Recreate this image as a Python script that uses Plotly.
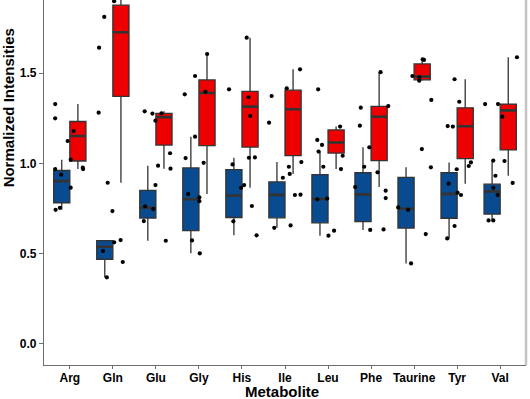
import numpy as np
import plotly.graph_objects as go

metabolites = ["Arg", "Gln", "Glu", "Gly", "His", "Ile", "Leu", "Phe", "Taurine", "Tyr", "Val"]

# group 1 (blue) sample values per metabolite
blue_values = [
    [0.742, 0.753, 0.865, 0.937, 0.968, 1.020],
    [0.367, 0.452, 0.513, 0.561, 0.574, 0.735],
    [0.570, 0.679, 0.746, 0.761, 0.879, 0.987],
    [0.500, 0.572, 0.790, 0.811, 1.029, 1.148],
    [0.600, 0.678, 0.763, 0.879, 0.994, 1.031],
    [0.642, 0.655, 0.824, 0.826, 0.920, 1.007],
    [0.598, 0.626, 0.800, 0.804, 0.981, 1.065],
    [0.630, 0.633, 0.807, 0.848, 0.981, 1.089],
    [0.444, 0.607, 0.741, 0.755, 0.978, 1.352],
    [0.583, 0.652, 0.824, 0.837, 0.985, 1.005],
    [0.683, 0.683, 0.824, 0.864, 0.891, 1.015],
]
# group 2 (red) sample values per metabolite
red_values = [
    [0.968, 0.976, 1.124, 1.179, 1.250, 1.329],
    [0.892, 1.281, 1.642, 1.813, 1.900, 2.400],
    [0.970, 1.056, 1.237, 1.276, 1.278, 1.289],
    [0.829, 1.003, 1.383, 1.398, 1.485, 1.607],
    [0.864, 1.033, 1.263, 1.367, 1.411, 1.698],
    [0.941, 0.981, 1.226, 1.374, 1.417, 1.522],
    [0.968, 1.042, 1.102, 1.130, 1.204, 1.411],
    [0.868, 0.950, 1.209, 1.309, 1.318, 1.506],
    [1.079, 1.459, 1.478, 1.485, 1.574, 1.578],
    [0.887, 0.967, 1.204, 1.207, 1.342, 1.467],
    [0.931, 1.013, 1.259, 1.329, 1.329, 1.589],
]
# horizontal jitter of each dot (category units)
blue_jitter = [
    [-0.33, -0.23, 0.02, -0.20, -0.34, 0.02],
    [-0.14, 0.23, -0.23, 0.03, 0.18, -0.01],
    [0.23, -0.28, -0.06, -0.25, -0.01, 0.05],
    [0.02, -0.16, 0.01, 0.01, -0.31, -0.09],
    [0.34, -0.20, 0.23, 0.05, -0.22, 0.16],
    [-0.25, 0.13, 0.23, 0.36, -0.05, 0.38],
    [0.01, 0.14, -0.25, -0.02, -0.11, -0.22],
    [-0.02, 0.29, 0.34, 0.34, -0.16, -0.04],
    [-0.07, 0.27, -0.14, -0.37, 0.39, 0.40],
    [-0.23, -0.06, 0.09, 0.01, 0.27, 0.32],
    [-0.27, -0.16, -0.06, -0.16, 0.29, -0.16],
]
red_jitter = [
    [0.31, 0.30, -0.05, 0.09, -0.34, -0.34],
    [-0.12, -0.33, -0.32, -0.20, 0.03, 0.20],
    [0.34, 0.33, -0.01, -0.08, 0.13, -0.26],
    [-0.25, 0.11, -0.33, 0.15, -0.09, 0.19],
    [-0.02, 0.30, 0.19, 0.15, -0.30, 0.11],
    [0.11, 0.09, -0.37, -0.31, 0.04, 0.35],
    [0.30, 0.34, -0.14, -0.25, 0.28, -0.23],
    [-0.37, 0.15, -0.26, -0.24, 0.40, 0.22],
    [0.18, 0.12, 0.12, -0.04, 0.23, 0.20],
    [-0.20, -0.01, -0.10, -0.22, 0.05, -0.06],
    [-0.11, 0.10, 0.05, -0.35, -0.05, 0.39],
]
y_ticks = [0.0, 0.5, 1.0, 1.5]

BLUE = "#084B91"
RED = "#EE0000"
OUTLINE = "#333333"
FONT = "Liberation Sans, Arial, Helvetica, sans-serif"

positions = np.arange(1, len(metabolites) + 1)


def box_stats(groups):
    q1s, meds, q3s, lfs, ufs = [], [], [], [], []
    for vals in groups:
        v = np.sort(np.asarray(vals, dtype=float))
        q1, med, q3 = np.percentile(v, [25, 50, 75])
        iqr = q3 - q1
        lf = v[v >= q1 - 1.5 * iqr].min()
        uf = v[v <= q3 + 1.5 * iqr].max()
        q1s.append(q1); meds.append(med); q3s.append(q3)
        lfs.append(min(lf, q1)); ufs.append(max(uf, q3))
    return q1s, meds, q3s, lfs, ufs


fig = go.Figure()

for name, groups, color in [("blue", blue_values, BLUE), ("red", red_values, RED)]:
    q1, med, q3, lf, uf = box_stats(groups)
    fig.add_trace(go.Box(
        x=positions, q1=q1, median=med, q3=q3, lowerfence=lf, upperfence=uf,
        fillcolor=color, line=dict(color=OUTLINE, width=1.3),
        offsetgroup=name, boxpoints=False, showlegend=False, name=name,
        whiskerwidth=0,
    ))
    # thicker median bar (ggplot style)
    fig.add_trace(go.Box(
        x=positions, q1=med, median=med, q3=med, lowerfence=med, upperfence=med,
        fillcolor="rgba(0,0,0,0)", line=dict(color=OUTLINE, width=2.6),
        offsetgroup=name, boxpoints=False, showlegend=False, name=name + " median",
        whiskerwidth=0, hoverinfo="skip",
    ))

px_, py_ = [], []
for i in range(len(metabolites)):
    for vals, jit in [(blue_values[i], blue_jitter[i]), (red_values[i], red_jitter[i])]:
        for v, j in zip(vals, jit):
            px_.append(positions[i] + j)
            py_.append(v)
fig.add_trace(go.Scatter(
    x=px_, y=py_, mode="markers",
    marker=dict(color="black", size=4.2, line=dict(width=0)),
    showlegend=False, cliponaxis=True,
))

fig.update_layout(
    width=530, height=399,
    margin=dict(l=44, r=4, t=0, b=34),
    paper_bgcolor="white", plot_bgcolor="white",
    boxmode="group", boxgap=0.25, boxgroupgap=0,
    font=dict(family=FONT, color="black"),
    showlegend=False,
    annotations=[
        dict(text="Metabolite", xref="paper", yref="paper", x=0.493, y=-0.072,
             xanchor="center", yanchor="middle", showarrow=False,
             font=dict(family=FONT, size=15, color="black", weight="bold")),
        dict(text="Normalized Intensities", xref="paper", yref="paper", x=-0.074, y=0.704,
             xanchor="center", yanchor="middle", showarrow=False, textangle=-90,
             font=dict(family=FONT, size=15, color="black", weight="bold")),
    ],
    shapes=[
        dict(type="line", xref="paper", yref="paper", x0=1.0, x1=1.0, y0=0, y1=1,
             line=dict(color="#c4c4c4", width=2.5)),
    ],
)
fig.update_xaxes(
    range=[0.4, 11.6], tickmode="array", tickvals=positions, ticktext=metabolites,
    showgrid=False, zeroline=False, showline=True, linecolor="#6e6e6e", linewidth=1.3,
    ticks="outside", ticklen=3, tickwidth=1.1, tickcolor="#6e6e6e",
    ticklabelstandoff=-2,
    tickfont=dict(family=FONT, size=12, color="black", weight="bold"),
)
fig.update_yaxes(
    range=[-0.12, 1.907], tickmode="array", tickvals=y_ticks,
    ticktext=[f"{t:.1f}" for t in y_ticks],
    showgrid=False, zeroline=False, showline=True, linecolor="#6e6e6e", linewidth=1.3,
    ticks="outside", ticklen=4, tickwidth=1.1, tickcolor="#6e6e6e",
    tickfont=dict(family=FONT, size=12, color="black", weight="bold"),
)

fig.write_html(
    "out.html",
    config={"displayModeBar": False},
    post_script="document.body.style.margin='0';document.body.style.overflow='hidden';",
)
